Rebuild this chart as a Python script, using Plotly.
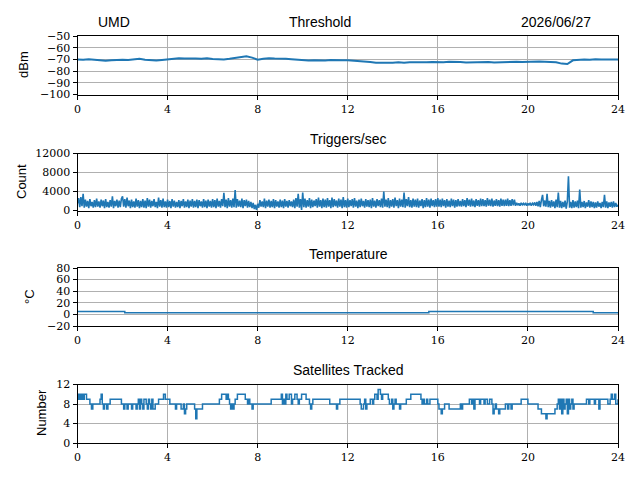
import plotly.graph_objects as go

# ---------------- data ----------------
hour_ticks = [0, 4, 8, 12, 16, 20, 24]

# Threshold (dBm), sampled every 0.25 h
thr_values = [
    -70.0, -70.3, -69.8, -70.4,
    -70.6, -71.2, -70.8, -70.5,
    -70.2, -70.6, -70.0, -69.5,
    -70.3, -70.9, -71.0, -70.6,
    -70.2, -69.4, -69.1, -69.3,
    -69.0, -69.2, -69.4, -69.1,
    -69.6, -69.8, -70.0, -69.5,
    -68.6, -68.2, -67.3, -68.5,
    -70.2, -69.4, -69.0, -69.3,
    -69.2, -69.5, -69.8, -70.3,
    -70.8, -71.0, -70.7, -71.1,
    -70.9, -70.6, -71.0, -70.8,
    -70.7, -71.0, -71.2, -71.5,
    -72.2, -72.8, -73.0, -72.6,
    -72.9, -72.5, -72.8, -72.4,
    -72.6, -72.2, -72.5, -72.3,
    -72.6, -72.4, -72.1, -72.5,
    -72.3, -72.6, -72.4, -72.2,
    -72.5, -72.3, -72.6, -72.4,
    -72.2, -72.4, -72.1, -72.3,
    -72.0, -72.2, -71.9, -72.1,
    -72.3, -72.5, -73.6, -74.0,
    -70.8, -70.2, -70.0, -70.3,
    -69.8, -70.1, -69.9, -70.2,
    -70.0,
]
thr_hours = [i * 0.25 for i in range(len(thr_values))]

# Triggers/sec (count), sampled every 0.05 h (one row per hour)
trig_values = [
    1500, 2600, 700, 2800, 900, 3500, 600, 2300, 800, 2000, 500, 2400, 900, 1800, 600, 2200, 700, 2500, 800, 1900,
    600, 2300, 900, 2100, 500, 2400, 700, 1800, 600, 2200, 800, 3000, 500, 2000, 900, 2300, 600, 2100, 700, 2500,
    3000, 800, 2400, 600, 2700, 900, 2100, 500, 2300, 700, 1900, 600, 2500, 800, 2200, 500, 2000, 700, 2400, 600,
    2100, 500, 2600, 800, 2300, 600, 2000, 900, 2400, 700, 1800, 500, 2700, 800, 2200, 600, 2500, 700, 1900, 600,
    2300, 700, 2000, 500, 2400, 800, 2100, 600, 1800, 700, 2200, 500, 2000, 900, 2400, 600, 1900, 700, 2300, 500,
    2100, 800, 2400, 600, 2000, 700, 2300, 500, 2200, 900, 1900, 600, 2400, 700, 2100, 500, 2300, 800, 2000, 600,
    2400, 700, 2200, 500, 2500, 800, 2000, 600, 2400, 900, 3700, 700, 2300, 500, 2600, 800, 2200, 600, 2500, 700,
    4300, 600, 2400, 800, 2100, 700, 2500, 500, 2200, 900, 2300, 600, 2000, 700, 1800, 500, 1600, 300, 1200, 100,
    1400, 600, 2200, 800, 1900, 700, 2500, 500, 2100, 800, 2300, 600, 2000, 700, 2400, 500, 2200, 800, 1900, 600,
    2300, 700, 2100, 500, 2400, 800, 2000, 600, 2200, 900, 1900, 700, 2300, 500, 2600, 800, 3500, 600, 2400, 100,
    3800, 700, 2500, 600, 2200, 800, 2600, 500, 2300, 700, 2100, 900, 2400, 600, 2700, 800, 2200, 500, 2500, 700,
    2300, 600, 2600, 800, 2200, 500, 2700, 700, 2400, 900, 2100, 600, 2500, 800, 2300, 500, 2800, 700, 2200, 600,
    2500, 700, 2200, 900, 2400, 600, 2600, 800, 2100, 500, 2300, 700, 2500, 900, 2000, 600, 2400, 800, 2200, 700,
    2300, 500, 2600, 800, 2100, 600, 2400, 900, 2200, 700, 2500, 600, 4000, 800, 2300, 700, 2600, 500, 2200, 800,
    2400, 600, 2700, 900, 2200, 500, 2500, 800, 2300, 700, 3800, 600, 2400, 900, 2800, 700, 2200, 600, 2500, 800,
    2300, 700, 2500, 600, 2100, 900, 2400, 500, 2200, 700, 2600, 800, 2300, 600, 2500, 900, 2200, 700, 2400, 800,
    2600, 800, 2300, 700, 2500, 900, 2200, 600, 2400, 800, 2100, 700, 2500, 900, 2300, 600, 2200, 800, 2400, 900,
    2000, 800, 2400, 900, 2200, 700, 2600, 1000, 2300, 800, 2500, 900, 2100, 700, 2400, 1000, 2200, 800, 2500, 900,
    2400, 900, 2200, 800, 2600, 1000, 2300, 900, 2500, 800, 2100, 1000, 2400, 900, 2200, 800, 2500, 1000, 2300, 900,
    2300, 1000, 2500, 900, 2200, 1000, 2400, 1100, 2300, 1000, 1600, 1100, 1500, 1000, 1600, 1200, 1500, 1100, 1600, 1000,
    1500, 1100, 1600, 1000, 1500, 1200, 1700, 1000, 1800, 900, 2000, 700, 2200, 3300, 900, 2100, 800, 3500, 700, 2000,
    600, 2200, 800, 1900, 500, 2300, 700, 3800, 600, 2000, 500, 1800, 700, 2100, 400, 1900, 7200, 600, 1800, 500,
    2200, 600, 1900, 700, 2100, 500, 4400, 600, 1800, 700, 2000, 500, 1700, 800, 2200, 600, 1900, 700, 1800, 500,
    1700, 600, 1900, 800, 1600, 500, 1800, 700, 3300, 600, 1900, 500, 1700, 800, 1800, 600, 1900, 700, 1600, 800,
    1200,
]
trig_hours = [i * 0.05 for i in range(len(trig_values))]

# Temperature (°C) steps
temp_hours = [0, 2.1, 15.6, 22.9, 24.0]
temp_values = [5, 3, 5, 3, 3]

# Satellites tracked, step changes (hour, count)
sat_steps = [
    (0, 10), (0.05, 9), (0.1, 10), (0.15, 9), (0.2, 10), (0.25, 9), (0.3, 10), (0.4, 9),
    (0.55, 8), (0.62, 7), (0.68, 8), (1.0, 9), (1.05, 10), (1.1, 8), (1.15, 7), (1.2, 8),
    (1.3, 7), (1.35, 8), (1.45, 9), (1.95, 8), (2.05, 7), (2.1, 8), (2.2, 7), (2.25, 8),
    (2.4, 7), (2.45, 8), (2.6, 7), (2.65, 8), (2.7, 9), (2.75, 7), (2.8, 9), (2.85, 8),
    (2.9, 7), (2.95, 9), (3.05, 8), (3.1, 7), (3.15, 9), (3.2, 8), (3.25, 7), (3.3, 9),
    (3.35, 7), (3.45, 8), (3.6, 9), (3.82, 10), (3.9, 9), (4.1, 8), (4.35, 7), (4.4, 8),
    (4.6, 7), (4.7, 8), (4.75, 6), (4.8, 7), (4.85, 8), (5.2, 7), (5.25, 5), (5.3, 7),
    (5.55, 8), (6.3, 9), (6.4, 10), (6.6, 9), (6.65, 10), (6.7, 9), (6.75, 8), (6.8, 7),
    (6.85, 8), (6.9, 7), (6.95, 8), (7.0, 9), (7.1, 10), (7.45, 9), (7.55, 8), (7.6, 9),
    (7.65, 8), (7.75, 7), (7.8, 8), (8.6, 9), (9.05, 10), (9.1, 8), (9.15, 9), (9.2, 8),
    (9.25, 10), (9.3, 9), (9.4, 10), (9.5, 8), (9.55, 9), (9.65, 10), (9.75, 9), (9.8, 8),
    (9.85, 9), (9.95, 10), (10.15, 9), (10.3, 8), (10.35, 7), (10.4, 8), (10.45, 9),
    (11.2, 8), (11.5, 7), (11.55, 8), (11.65, 9), (12.55, 8), (12.6, 7), (12.7, 8),
    (12.75, 9), (12.8, 7), (12.85, 8), (13.0, 9), (13.1, 8), (13.15, 9), (13.2, 10),
    (13.3, 9), (13.35, 11), (13.45, 10), (13.5, 9), (13.55, 10), (13.8, 9), (13.85, 8),
    (13.95, 9), (14.0, 7), (14.05, 8), (14.1, 9), (14.15, 8), (14.3, 7), (14.35, 8),
    (14.6, 9), (14.8, 10), (15.25, 9), (15.3, 8), (15.35, 9), (15.4, 8), (15.5, 9),
    (15.55, 8), (15.65, 9), (16.0, 8), (16.05, 7), (16.15, 6), (16.2, 7), (16.3, 8),
    (16.5, 7), (17.0, 8), (17.05, 7), (17.1, 8), (17.4, 9), (17.5, 8), (17.55, 9),
    (17.6, 7), (17.65, 9), (17.85, 8), (17.9, 9), (18.05, 8), (18.1, 9), (18.2, 8),
    (18.3, 9), (18.4, 8), (18.45, 6), (18.5, 7), (18.55, 8), (18.6, 7), (18.7, 6),
    (18.75, 7), (19.0, 8), (19.1, 7), (19.15, 8), (19.25, 7), (19.3, 8), (19.7, 9),
    (20.0, 8), (20.45, 7), (20.6, 6), (20.8, 5), (20.85, 6), (21.2, 7), (21.3, 8),
    (21.35, 9), (21.4, 7), (21.45, 9), (21.5, 6), (21.55, 9), (21.6, 7), (21.65, 8),
    (21.7, 9), (21.75, 6), (21.8, 9), (21.85, 7), (21.9, 8), (21.95, 9), (22.0, 7),
    (22.05, 8), (22.6, 9), (22.7, 8), (22.75, 9), (22.95, 8), (23.0, 9), (23.15, 7),
    (23.2, 9), (23.55, 8), (23.65, 9), (23.7, 10), (23.75, 9), (23.85, 10), (23.9, 8),
    (24.0, 9),
]
sat_hours = [t for t, _ in sat_steps]
sat_values = [v for _, v in sat_steps]

# ---------------- figure ----------------
BLUE = "#1f77b4"
TICKFONT = dict(family="DejaVu Serif, serif", size=11, color="black")
TITLEFONT = dict(family="Liberation Sans", size=14, color="black")
YTITLEFONT = dict(family="Liberation Sans", size=13, color="black")

fig = go.Figure()
fig.add_trace(go.Scatter(x=thr_hours, y=thr_values, mode="lines",
                         line=dict(color=BLUE, width=2), xaxis="x", yaxis="y"))
fig.add_trace(go.Scatter(x=trig_hours, y=trig_values, mode="lines",
                         line=dict(color=BLUE, width=1.6), xaxis="x2", yaxis="y2"))
fig.add_trace(go.Scatter(x=temp_hours, y=temp_values, mode="lines", line_shape="hv",
                         line=dict(color=BLUE, width=1.5), xaxis="x3", yaxis="y3"))
fig.add_trace(go.Scatter(x=sat_hours, y=sat_values, mode="lines", line_shape="hv",
                         line=dict(color=BLUE, width=1.5), xaxis="x4", yaxis="y4"))

xdom = [77.5 / 640, 618 / 640]
ydoms = [
    [1 - 94.5 / 480, 1 - 36 / 480],
    [1 - 210.5 / 480, 1 - 153.5 / 480],
    [1 - 326 / 480, 1 - 268 / 480],
    [1 - 443 / 480, 1 - 384.5 / 480],
]
yranges = [[-100, -50], [0, 12000], [-20, 80], [0, 12]]
ydticks = [10, 4000, 20, 4]

common_axis = dict(
    showline=True, linecolor="black", linewidth=1, mirror=True,
    ticks="outside", ticklen=4, tickwidth=1, tickcolor="black",
    showgrid=True, gridcolor="#b0b0b0", gridwidth=1,
    zeroline=False, tickfont=TICKFONT, automargin=False,
)

layout = dict(
    width=640, height=480, margin=dict(l=0, r=0, t=0, b=0, autoexpand=False),
    paper_bgcolor="white", plot_bgcolor="white", showlegend=False,
)
for i in range(4):
    sx = "" if i == 0 else str(i + 1)
    layout["xaxis" + sx] = dict(
        common_axis, domain=xdom, range=[0, 24], tickvals=hour_ticks,
        anchor="y" + sx,
    )
    layout["yaxis" + sx] = dict(
        common_axis, domain=ydoms[i], range=yranges[i], dtick=ydticks[i],
        tick0=yranges[i][0], anchor="x" + sx, tickformat="d",
    )
fig.update_layout(**layout)

annots = [
    ("UMD", 114, 22, 0),
    ("Threshold", 320, 22, 0),
    ("2026/06/27", 556, 22, 0),
    ("Triggers/sec", 348, 139, 0),
    ("Temperature", 348, 254, 0),
    ("Satellites Tracked", 348, 370, 0),
    ("dBm", 24, 65, -90),
    ("Count", 21, 182, -90),
    ("°C", 29, 297, -90),
    ("Number", 41, 413, -90),
]
for text, px, py, ang in annots:
    fig.add_annotation(
        text=text, x=px / 640, y=1 - py / 480, xref="paper", yref="paper",
        showarrow=False, xanchor="center", yanchor="middle", textangle=ang,
        font=TITLEFONT if ang == 0 else YTITLEFONT,
    )

fig.write_html(
    "out.html",
    config={"displayModeBar": False},
    post_script="document.body.style.margin='0';document.body.style.padding='0';",
)
